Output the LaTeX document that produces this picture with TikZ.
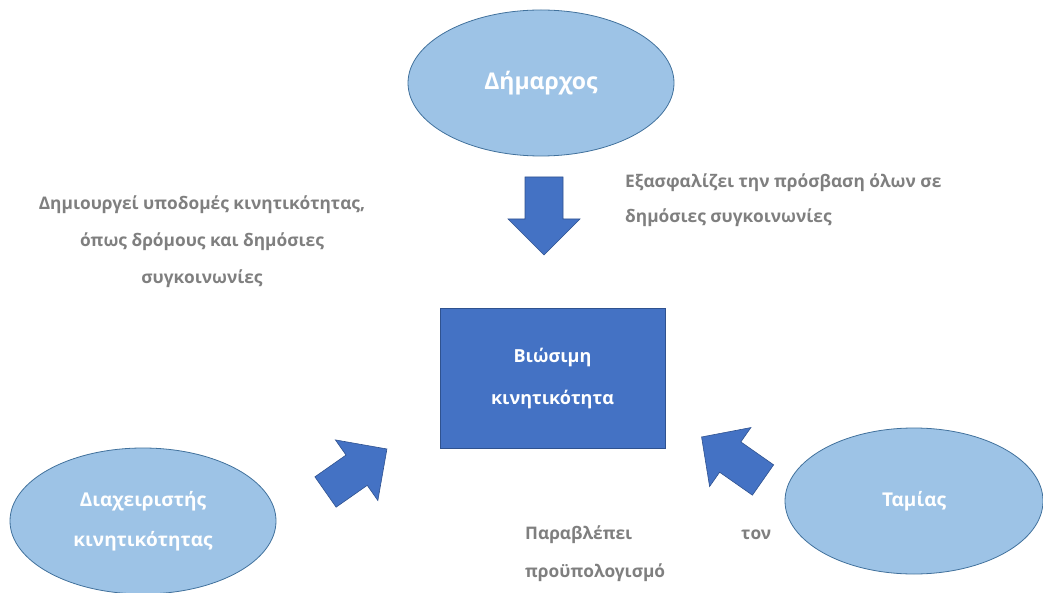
\documentclass[tikz,border=0pt]{standalone}
\usepackage{fontspec}
\setmainfont{Open Sans}
\usepackage{xcolor}
\usetikzlibrary{shapes.geometric}

\definecolor{ellfill}{HTML}{9DC3E6}
\definecolor{ellline}{HTML}{41719C}
\definecolor{boxfill}{HTML}{4472C4}
\definecolor{boxline}{HTML}{2F528F}
\definecolor{notegray}{HTML}{7F7F7F}

\tikzset{
  actor/.style={ellipse,draw=ellline,fill=ellfill,line width=0.8pt,minimum width=266pt,minimum height=146pt,inner sep=0pt,text=white,font=\bfseries\fontsize{19}{40}\selectfont,align=center},
  goal/.style={rectangle,draw=boxline,fill=boxfill,line width=0.8pt,minimum width=225pt,minimum height=140pt,text=white,font=\bfseries\fontsize{18}{42}\selectfont,align=center},
  note/.style={text=notegray,font=\bfseries\fontsize{17.3}{37}\selectfont,inner sep=0pt},
  blockarrow/.style={draw=boxline,fill=boxfill,line width=0.6pt,line join=miter}
}

\begin{document}
\begin{tikzpicture}[x=1pt,y=1pt]
  \useasboundingbox (0,0) rectangle (1043,592);

  \node[actor,font=\bfseries\fontsize{23}{40}\selectfont] (dimarchos) at (541,509) {Δήμαρχος};
  \node[goal] (viosimi) at (552.5,214) {Βιώσιμη\\κινητικότητα};
  \node[actor] (diaxeiristis) at (143,71) {Διαχειριστής\\κινητικότητας};
  \node[actor,minimum width=258pt] (tamias) at (914,91) {\raisebox{-4pt}{Ταμίας}};

  \node[note,align=center] (ypodomes) at (202,350) {Δημιουργεί υποδομές κινητικότητας,\\όπως δρόμους και δημόσιες\\συγκοινωνίες};
  \node[note,align=left,anchor=west,font=\bfseries\fontsize{17.3}{35}\selectfont] (prosvasi) at (625,392) {Εξασφαλίζει την πρόσβαση όλων σε\\δημόσιες συγκοινωνίες};
  \node[note,align=left,anchor=north west,text width=246pt,font=\bfseries\fontsize{17.3}{38}\selectfont] (proypologismos) at (525,66) {Παραβλέπει\hfill τον\\προϋπολογισμό};

  % block arrows
  \draw[blockarrow,shift={(544,415)},rotate=-90] (0,-19) -- (42,-19) -- (42,-36) -- (78,0) -- (42,36) -- (42,19) -- (0,19) -- cycle;
  \draw[blockarrow,shift={(325.5,100)},rotate=35] (0,-18.5) -- (38,-18.5) -- (38,-37) -- (75,0) -- (38,37) -- (38,18.5) -- (0,18.5) -- cycle;
  \draw[blockarrow,shift={(763,112)},rotate=145] (0,-18.5) -- (40,-18.5) -- (40,-36) -- (75,0) -- (40,36) -- (40,18.5) -- (0,18.5) -- cycle;
\end{tikzpicture}
\end{document}
